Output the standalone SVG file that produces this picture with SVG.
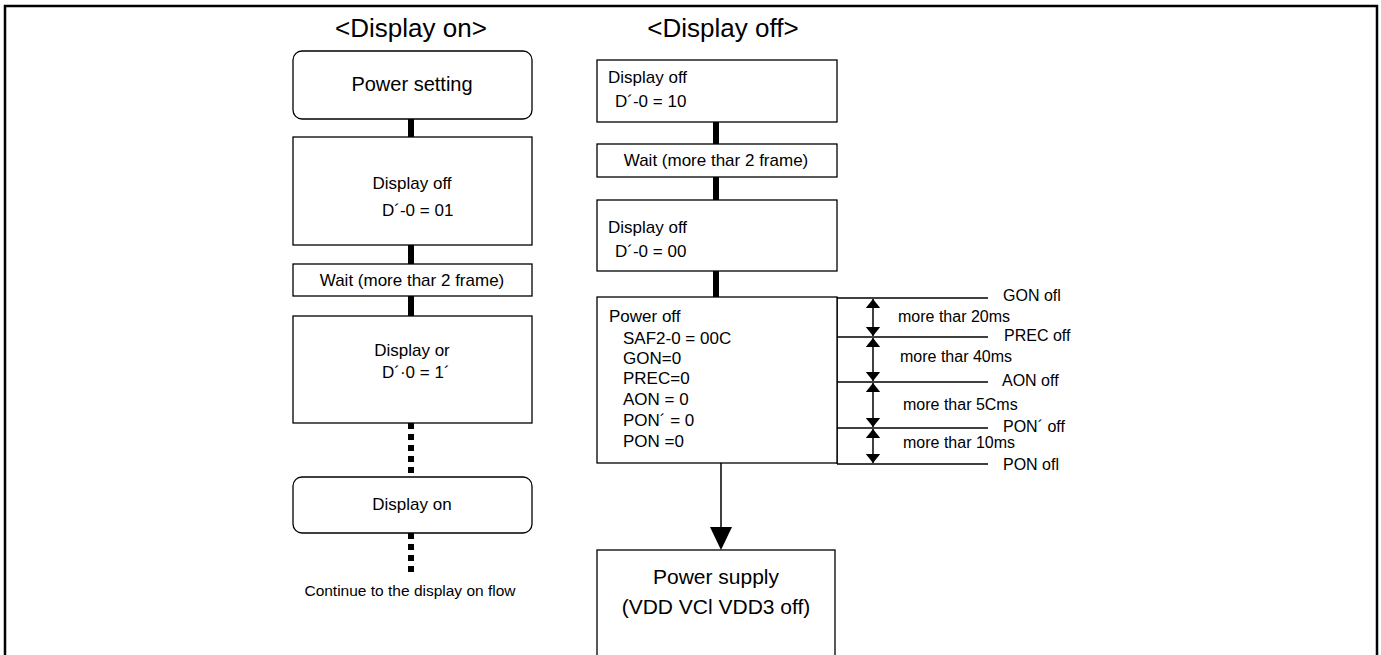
<svg xmlns="http://www.w3.org/2000/svg" width="1381" height="655" viewBox="0 0 1381 655">
<style>
text{font-family:"Liberation Sans",Arial,sans-serif;fill:#000}
.box{fill:#fff;stroke:#000;stroke-width:1.3}
.t{font-size:17px}
.c{text-anchor:middle}
.title{font-size:26px}
.thick{stroke:#000;stroke-width:6;fill:none}
.dot{stroke:#000;stroke-width:6;fill:none;stroke-dasharray:6 5}
.thin{stroke:#000;stroke-width:1.5;fill:none}
.lbl{font-size:16px}
</style>
<defs>
<marker id="ah" viewBox="0 0 10 16" refX="10" refY="8" markerWidth="9" markerHeight="16" markerUnits="userSpaceOnUse" orient="auto-start-reverse"><path d="M0,0 L10,8 L0,16 Z" fill="#000"/></marker>
</defs>
<rect x="5" y="6" width="1372" height="660" fill="none" stroke="#000" stroke-width="2.5"/>
<text class="title c" x="411" y="37">&lt;Display on&gt;</text>
<text class="title c" x="723" y="37">&lt;Display off&gt;</text>
<g id="connectors">
<line class="thick" x1="411" y1="119" x2="411" y2="137"/>
<line class="thick" x1="411" y1="245" x2="411" y2="264"/>
<line class="thick" x1="411" y1="296" x2="411" y2="316"/>
<line class="dot" x1="411" y1="423" x2="411" y2="477"/>
<line class="dot" x1="411" y1="533" x2="411" y2="577"/>
<line class="thick" x1="716" y1="122" x2="716" y2="144"/>
<line class="thick" x1="716" y1="177" x2="716" y2="200"/>
<line class="thick" x1="716" y1="271" x2="716" y2="297"/>
<line class="thin" x1="721" y1="463" x2="721" y2="530"/>
<path d="M710,527 L732,527 L721,550 Z" fill="#000"/>
<line class="thin" x1="837" y1="297" x2="837" y2="464"/>
<line class="thin" x1="837" y1="298" x2="988" y2="298"/>
<line class="thin" x1="832" y1="337" x2="988" y2="337"/>
<line class="thin" x1="837" y1="382" x2="988" y2="382"/>
<line class="thin" x1="837" y1="428" x2="988" y2="428"/>
<line class="thin" x1="837" y1="464" x2="988" y2="464"/>
<line class="thin" x1="873" y1="299" x2="873" y2="336" marker-start="url(#ah)" marker-end="url(#ah)"/>
<line class="thin" x1="873" y1="338" x2="873" y2="381" marker-start="url(#ah)" marker-end="url(#ah)"/>
<line class="thin" x1="873" y1="383" x2="873" y2="427" marker-start="url(#ah)" marker-end="url(#ah)"/>
<line class="thin" x1="873" y1="429" x2="873" y2="463" marker-start="url(#ah)" marker-end="url(#ah)"/>
</g>
<g id="power-setting"><rect class="box" x="293" y="51" width="239" height="68" rx="9"/><text class="c" x="412" y="91" font-size="20">Power setting</text></g>
<g id="display-off-01"><rect class="box" x="293" y="137" width="239" height="108"/><text class="t c" x="412" y="189">Display off</text><text class="t" x="382" y="216">D´-0 = 01</text></g>
<g id="wait-left"><rect class="box" x="293" y="264" width="239" height="32"/><text class="t c" x="412" y="286">Wait (more thar  2 frame)</text></g>
<g id="display-on-11"><rect class="box" x="293" y="316" width="239" height="107"/><text class="t c" x="412" y="356">Display or</text><text class="t" x="382" y="378">D´·0 = 1´</text></g>
<g id="display-on"><rect class="box" x="293" y="477" width="239" height="56" rx="9"/><text class="t c" x="412" y="510">Display on</text></g>
<text class="c" x="410" y="596" font-size="15.5">Continue to the display on flow</text>
<g id="display-off-10"><rect class="box" x="597" y="60" width="240" height="62"/><text class="t" x="608" y="83">Display off</text><text class="t" x="615" y="107">D´-0 = 10</text></g>
<g id="wait-right"><rect class="box" x="597" y="144" width="240" height="33"/><text class="t c" x="716" y="166">Wait (more thar  2 frame)</text></g>
<g id="display-off-00"><rect class="box" x="597" y="200" width="240" height="71"/><text class="t" x="608" y="233">Display off</text><text class="t" x="615" y="257">D´-0 = 00</text></g>
<g id="power-off"><rect class="box" x="597" y="297" width="240" height="166"/>
<text class="t" x="609" y="322">Power off</text>
<text class="t" x="623" y="344">SAF2-0 = 00C</text>
<text class="t" x="623" y="364">GON=0</text>
<text class="t" x="623" y="384">PREC=0</text>
<text class="t" x="623" y="405">AON = 0</text>
<text class="t" x="623" y="426">PON´ = 0</text>
<text class="t" x="623" y="447">PON =0</text>
</g>
<g id="power-supply"><rect class="box" x="597" y="550" width="238" height="110"/><text class="c" x="716" y="584" font-size="21">Power supply</text><text class="c" x="716" y="614" font-size="21">(VDD VCl VDD3 off)</text></g>
<g id="timing-labels">
<text class="lbl" x="898" y="322">more thar  20ms</text>
<text class="lbl" x="900" y="362">more thar  40ms</text>
<text class="lbl" x="903" y="410">more thar  5Cms</text>
<text class="lbl" x="903" y="448">more thar  10ms</text>
<text class="lbl" x="1003" y="301">GON ofl</text>
<text class="lbl" x="1004" y="341">PREC  off</text>
<text class="lbl" x="1002" y="386">AON off</text>
<text class="lbl" x="1003" y="432">PON´  off</text>
<text class="lbl" x="1003" y="470">PON ofl</text>
</g>
</svg>
